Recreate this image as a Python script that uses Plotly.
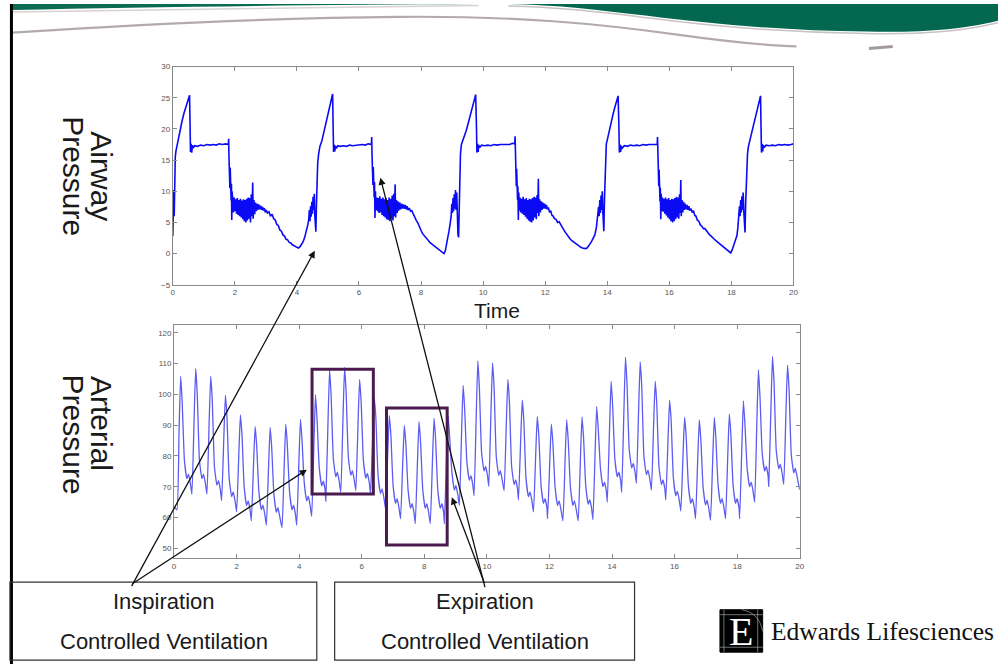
import plotly.graph_objects as go

W, H = 1003, 669

# ---------------- data ----------------
# Airway pressure (cmH2O) vs time (s)
airway_points = [
    (0.00, 2.8), (0.01, 8.5), (0.02, 3.5), (0.03, 10.2), (0.045, 6.0), (0.06, 12.5), (0.08, 15.5), (0.10, 16.4),
    (0.13, 17.2), (0.18, 18.4), (0.24, 19.9), (0.30, 21.3), (0.36, 22.5), (0.42, 23.6), (0.48, 24.6), (0.54, 25.4),
    (0.555, 21.0), (0.57, 16.3), (0.59, 17.6), (0.61, 16.2), (0.63, 17.4), (0.66, 16.9), (0.70, 17.3), (0.80, 17.2),
    (0.90, 17.4), (1.00, 17.3), (1.10, 17.5), (1.20, 17.4), (1.30, 17.5), (1.40, 17.4), (1.50, 17.6), (1.60, 17.5),
    (1.70, 17.6), (1.79, 17.5), (1.80, 18.4), (1.81, 15.5), (1.82, 13.2), (1.83, 14.6), (1.84, 10.5), (1.85, 13.8),
    (1.86, 9.8), (1.87, 12.5), (1.88, 8.5), (1.89, 11.2), (1.90, 5.4), (1.91, 10.0), (1.93, 8.8),
    (1.955, 6.6), (1.98, 9.0), (2.005, 6.8), (2.03, 8.7), (2.055, 6.4), (2.08, 8.9), (2.105, 6.2), (2.13, 8.6),
    (2.155, 6.0), (2.18, 8.8), (2.205, 5.8), (2.23, 8.5), (2.255, 5.5), (2.28, 8.7), (2.305, 5.2), (2.33, 8.6),
    (2.355, 5.0), (2.38, 8.8), (2.405, 5.3), (2.43, 9.0), (2.455, 5.6), (2.48, 8.9), (2.505, 5.0), (2.53, 9.5),
    (2.555, 6.0), (2.575, 11.4), (2.59, 5.6), (2.615, 8.6), (2.64, 6.3), (2.665, 8.2), (2.69, 6.8), (2.715, 8.0),
    (2.74, 7.0), (2.77, 7.9), (2.80, 7.1), (2.83, 7.7), (2.86, 7.0), (2.89, 7.5), (2.92, 6.9), (2.95, 7.3),
    (2.98, 6.6), (3.01, 7.0), (3.05, 6.5), (3.10, 6.7), (3.15, 6.0), (3.20, 6.3), (3.25, 5.6), (3.30, 5.4),
    (3.35, 4.7), (3.40, 4.5), (3.45, 3.8), (3.50, 3.6), (3.55, 3.0), (3.60, 2.8), (3.65, 2.3), (3.70, 2.2),
    (3.75, 1.8), (3.80, 1.7), (3.85, 1.4), (3.90, 1.3), (3.95, 1.1), (4.00, 1.0), (4.05, 0.9), (4.10, 1.1),
    (4.15, 1.5), (4.20, 1.9), (4.25, 2.6), (4.30, 3.4), (4.35, 4.6), (4.38, 5.4), (4.40, 7.0), (4.42, 5.2),
    (4.44, 7.6), (4.46, 5.9), (4.48, 8.3), (4.50, 6.4), (4.52, 9.1), (4.54, 7.0), (4.56, 9.6), (4.575, 6.2),
    (4.59, 4.2), (4.61, 3.5), (4.63, 8.0), (4.65, 12.5), (4.67, 14.6), (4.70, 16.0), (4.74, 17.2), (4.80, 18.0),
    (4.86, 19.3), (4.92, 20.6), (4.98, 21.9), (5.04, 23.2), (5.10, 24.4), (5.15, 25.6),
    (5.165, 21.0), (5.18, 16.3), (5.20, 17.5), (5.22, 16.4), (5.24, 17.3), (5.27, 16.9), (5.32, 17.3), (5.40, 17.2),
    (5.50, 17.3), (5.60, 17.2), (5.70, 17.4), (5.80, 17.3), (5.90, 17.4), (6.00, 17.4), (6.10, 17.5), (6.20, 17.4),
    (6.30, 17.6), (6.40, 17.5), (6.41, 18.7), (6.42, 15.8), (6.43, 13.5), (6.44, 14.8), (6.45, 11.0), (6.46, 13.9),
    (6.47, 10.5), (6.48, 12.8), (6.49, 9.0), (6.50, 11.5), (6.515, 5.7), (6.53, 10.0), (6.545, 7.0),
    (6.57, 9.0), (6.595, 6.8), (6.62, 8.9), (6.645, 6.5), (6.67, 9.2), (6.695, 6.6), (6.72, 8.8), (6.745, 6.2),
    (6.77, 9.0), (6.795, 6.0), (6.82, 8.7), (6.845, 5.8), (6.87, 8.9), (6.895, 5.5), (6.92, 8.6), (6.945, 5.4),
    (6.97, 9.0), (6.995, 5.2), (7.02, 8.8), (7.045, 5.6), (7.07, 9.3), (7.095, 5.3), (7.12, 9.6), (7.14, 6.0),
    (7.165, 11.1), (7.18, 5.8), (7.205, 8.6), (7.23, 6.5), (7.255, 8.4), (7.28, 6.9), (7.31, 8.2), (7.34, 7.1),
    (7.37, 8.0), (7.40, 7.2), (7.43, 7.9), (7.46, 7.2), (7.49, 7.8), (7.52, 7.1), (7.55, 7.6), (7.58, 7.0),
    (7.62, 7.3), (7.66, 6.8), (7.70, 6.9), (7.75, 6.3), (7.80, 6.0), (7.85, 5.3), (7.90, 4.9), (7.95, 4.2),
    (8.00, 3.7), (8.05, 3.2), (8.10, 2.9), (8.15, 2.5), (8.20, 2.2), (8.25, 2.0), (8.30, 1.7), (8.35, 1.5),
    (8.40, 1.3), (8.45, 1.1), (8.50, 0.9), (8.55, 0.8), (8.60, 0.6), (8.65, 0.4), (8.70, 0.2), (8.74, 0.0),
    (8.78, 0.4), (8.82, 1.3), (8.86, 2.4), (8.90, 3.6), (8.94, 4.9), (8.97, 6.0), (8.99, 8.0), (9.01, 6.5),
    (9.03, 8.9), (9.05, 6.8), (9.07, 9.5), (9.09, 7.2), (9.11, 10.2), (9.13, 7.0), (9.15, 9.8), (9.17, 5.0),
    (9.19, 3.0), (9.21, 2.6), (9.23, 8.0), (9.25, 13.0), (9.27, 16.0), (9.30, 17.5), (9.33, 17.9), (9.40, 18.9),
    (9.46, 19.8), (9.52, 20.9), (9.58, 22.1), (9.64, 23.3), (9.70, 24.5), (9.76, 25.5),
    (9.785, 20.5), (9.80, 16.2), (9.82, 17.6), (9.84, 16.3), (9.86, 17.4), (9.89, 17.0), (9.95, 17.4), (10.05, 17.3),
    (10.15, 17.4), (10.25, 17.3), (10.35, 17.5), (10.45, 17.4), (10.55, 17.5), (10.65, 17.5), (10.75, 17.6), (10.85, 17.5),
    (10.95, 17.7), (11.02, 17.6), (11.03, 18.8), (11.04, 15.5), (11.05, 13.4), (11.06, 14.7), (11.07, 10.8), (11.08, 13.6),
    (11.09, 9.8), (11.10, 12.4), (11.11, 8.6), (11.12, 10.8), (11.135, 5.4), (11.15, 9.8), (11.165, 6.9),
    (11.19, 9.0), (11.215, 6.6), (11.24, 8.8), (11.265, 6.4), (11.29, 9.1), (11.315, 6.2), (11.34, 8.7), (11.365, 5.9),
    (11.39, 8.9), (11.415, 5.6), (11.44, 8.6), (11.465, 5.3), (11.49, 8.8), (11.515, 5.1), (11.54, 8.7), (11.565, 5.0),
    (11.59, 8.9), (11.615, 5.3), (11.64, 9.1), (11.665, 5.8), (11.69, 9.0), (11.715, 5.5), (11.74, 9.4), (11.76, 6.5),
    (11.78, 12.0), (11.795, 6.0), (11.82, 8.7), (11.845, 6.6), (11.87, 8.4), (11.895, 7.0), (11.92, 8.2), (11.95, 7.2),
    (11.98, 8.0), (12.01, 7.2), (12.04, 7.8), (12.07, 7.1), (12.10, 7.4), (12.14, 6.7), (12.18, 6.8), (12.22, 6.1),
    (12.26, 6.0), (12.30, 5.6), (12.35, 5.5), (12.40, 5.0), (12.45, 5.1), (12.50, 4.6), (12.55, 4.3), (12.60, 3.8),
    (12.65, 3.4), (12.70, 3.0), (12.75, 2.7), (12.80, 2.4), (12.85, 2.1), (12.90, 1.9), (12.95, 1.7), (13.00, 1.5),
    (13.05, 1.3), (13.10, 1.1), (13.15, 1.0), (13.20, 0.9), (13.25, 0.8), (13.30, 0.8), (13.35, 0.9), (13.40, 1.2),
    (13.45, 1.6), (13.50, 2.0), (13.55, 2.4), (13.60, 3.0), (13.65, 4.2), (13.69, 5.6), (13.72, 7.5), (13.74, 6.0),
    (13.76, 8.6), (13.78, 6.5), (13.80, 9.3), (13.82, 7.0), (13.84, 10.0), (13.86, 6.5), (13.875, 4.5), (13.89, 3.6),
    (13.91, 8.5), (13.93, 13.0), (13.95, 16.5), (13.97, 17.6), (14.00, 18.2), (14.06, 19.7), (14.12, 20.9), (14.18, 22.2),
    (14.24, 23.4), (14.30, 24.5), (14.35, 25.3),
    (14.375, 20.5), (14.39, 16.2), (14.41, 17.5), (14.43, 16.3), (14.45, 17.3), (14.48, 16.9), (14.55, 17.3), (14.65, 17.2),
    (14.75, 17.4), (14.85, 17.3), (14.95, 17.4), (15.05, 17.3), (15.15, 17.5), (15.25, 17.4), (15.35, 17.5), (15.45, 17.5),
    (15.55, 17.6), (15.61, 17.5), (15.62, 18.7), (15.63, 15.6), (15.64, 13.3), (15.65, 14.6), (15.66, 10.8), (15.67, 13.5),
    (15.68, 9.6), (15.69, 12.2), (15.70, 8.4), (15.71, 10.6), (15.725, 5.5), (15.74, 9.6), (15.755, 6.8),
    (15.78, 9.0), (15.805, 6.7), (15.83, 8.8), (15.855, 6.4), (15.88, 9.0), (15.905, 6.1), (15.93, 8.7), (15.955, 5.8),
    (15.98, 8.9), (16.005, 5.5), (16.03, 8.6), (16.055, 5.2), (16.08, 8.8), (16.105, 5.0), (16.13, 8.7), (16.155, 5.2),
    (16.18, 8.9), (16.205, 5.5), (16.23, 9.1), (16.255, 5.8), (16.28, 9.0), (16.305, 5.6), (16.33, 9.5), (16.35, 6.5),
    (16.37, 11.8), (16.385, 6.0), (16.41, 8.6), (16.435, 6.6), (16.46, 8.3), (16.485, 7.0), (16.51, 8.0), (16.54, 7.1),
    (16.57, 7.8), (16.60, 7.0), (16.63, 7.6), (16.66, 6.9), (16.70, 7.2), (16.74, 6.6), (16.78, 6.9), (16.82, 6.1),
    (16.86, 6.0), (16.90, 5.4), (16.95, 5.2), (17.00, 4.6), (17.05, 4.4), (17.10, 4.0), (17.15, 4.0), (17.20, 3.6),
    (17.25, 3.4), (17.30, 3.0), (17.35, 2.8), (17.40, 2.5), (17.45, 2.3), (17.50, 2.1), (17.55, 1.9), (17.60, 1.7),
    (17.65, 1.5), (17.70, 1.3), (17.75, 1.1), (17.80, 0.9), (17.85, 0.6), (17.90, 0.4), (17.95, 0.2), (17.98, 0.1),
    (18.02, 0.5), (18.06, 1.2), (18.10, 1.8), (18.14, 2.3), (18.18, 2.9), (18.21, 4.2), (18.24, 5.8), (18.26, 7.6),
    (18.28, 6.0), (18.30, 8.6), (18.32, 6.6), (18.34, 9.2), (18.36, 7.0), (18.38, 9.8), (18.40, 6.8), (18.42, 5.0),
    (18.44, 3.4), (18.46, 8.0), (18.49, 13.0), (18.52, 16.0), (18.55, 17.2), (18.60, 18.2), (18.66, 19.5), (18.72, 20.8),
    (18.78, 22.1), (18.84, 23.4), (18.90, 24.6), (18.94, 25.3),
    (18.955, 20.5), (18.97, 16.2), (18.99, 17.6), (19.01, 16.4), (19.03, 17.4), (19.06, 17.0), (19.12, 17.4), (19.22, 17.3),
    (19.32, 17.4), (19.42, 17.3), (19.52, 17.5), (19.62, 17.4), (19.72, 17.5), (19.82, 17.4), (19.92, 17.5), (20.00, 17.6),
]

# Arterial pressure (mmHg) vs time (s), one row per heart beat
art_t_beats = [
    [0.00],
    [0.09, 0.16, 0.21, 0.26, 0.33, 0.41, 0.46, 0.52],
    [0.57, 0.64, 0.69, 0.74, 0.81, 0.89, 0.94, 1.00],
    [1.05, 1.12, 1.17, 1.22, 1.29, 1.37, 1.42, 1.48],
    [1.52, 1.59, 1.64, 1.69, 1.76, 1.84, 1.89, 1.95],
    [2.00, 2.07, 2.12, 2.17, 2.24, 2.32, 2.37, 2.43],
    [2.47, 2.54, 2.59, 2.64, 2.71, 2.79, 2.84, 2.90],
    [2.95, 3.02, 3.07, 3.12, 3.19, 3.27, 3.32, 3.38],
    [3.45, 3.52, 3.57, 3.62, 3.69, 3.77, 3.82, 3.88],
    [3.92, 3.99, 4.04, 4.09, 4.16, 4.24, 4.29, 4.35],
    [4.40, 4.47, 4.52, 4.57, 4.64, 4.72, 4.77, 4.83],
    [4.85, 4.92, 4.97, 5.02, 5.09, 5.17, 5.22, 5.28],
    [5.33, 5.40, 5.45, 5.50, 5.57, 5.65, 5.70, 5.76],
    [5.81, 5.88, 5.93, 5.98, 6.05, 6.13, 6.18, 6.24],
    [6.28, 6.35, 6.40, 6.45, 6.52, 6.60, 6.65, 6.71],
    [6.76, 6.83, 6.88, 6.93, 7.00, 7.08, 7.13, 7.19],
    [7.24, 7.31, 7.36, 7.41, 7.48, 7.56, 7.61, 7.67],
    [7.71, 7.78, 7.83, 7.88, 7.95, 8.03, 8.08, 8.14],
    [8.19, 8.26, 8.31, 8.36, 8.43, 8.51, 8.56, 8.62],
    [8.64, 8.71, 8.76, 8.81, 8.88, 8.96, 9.01, 9.07],
    [9.12, 9.19, 9.24, 9.29, 9.36, 9.44, 9.49, 9.55],
    [9.59, 9.66, 9.71, 9.76, 9.83, 9.91, 9.96, 10.02],
    [10.06, 10.13, 10.18, 10.23, 10.30, 10.38, 10.43, 10.49],
    [10.55, 10.62, 10.67, 10.72, 10.79, 10.87, 10.92, 10.98],
    [11.01, 11.08, 11.13, 11.18, 11.25, 11.33, 11.38, 11.44],
    [11.49, 11.56, 11.61, 11.66, 11.73, 11.81, 11.86, 11.92],
    [11.94, 12.01, 12.06, 12.11, 12.18, 12.26, 12.31, 12.37],
    [12.43, 12.50, 12.55, 12.60, 12.67, 12.75, 12.80, 12.86],
    [12.92, 12.99, 13.04, 13.09, 13.16, 13.24, 13.29, 13.35],
    [13.39, 13.46, 13.51, 13.56, 13.63, 13.71, 13.76, 13.82],
    [13.85, 13.92, 13.97, 14.02, 14.09, 14.17, 14.22, 14.28],
    [14.31, 14.38, 14.43, 14.48, 14.55, 14.63, 14.68, 14.74],
    [14.78, 14.85, 14.90, 14.95, 15.02, 15.10, 15.15, 15.21],
    [15.26, 15.33, 15.38, 15.43, 15.50, 15.58, 15.63, 15.69],
    [15.72, 15.79, 15.84, 15.89, 15.96, 16.04, 16.09, 16.15],
    [16.20, 16.27, 16.32, 16.37, 16.44, 16.52, 16.57, 16.63],
    [16.67, 16.74, 16.79, 16.84, 16.91, 16.99, 17.04, 17.10],
    [17.15, 17.22, 17.27, 17.32, 17.39, 17.47, 17.52, 17.58],
    [17.63, 17.70, 17.75, 17.80, 17.87, 17.95, 18.00, 18.06],
    [18.08, 18.15, 18.20, 18.25, 18.32, 18.40, 18.45, 18.51],
    [18.56, 18.63, 18.68, 18.73, 18.80, 18.88, 18.93, 18.99],
    [19.01, 19.08, 19.13, 19.18, 19.25, 19.33, 19.38, 19.44],
    [19.49, 19.56, 19.61, 19.66, 19.73, 19.81, 19.86, 19.92],
    [20.00],
]
art_p_beats = [
    [63.5],
    [62.5, 88.5, 105.9, 97.2, 78.6, 72.6, 74.1, 71.1],
    [67.6, 92.1, 108.4, 100.2, 78.6, 72.6, 74.1, 71.1],
    [67.6, 90.6, 105.9, 98.2, 76.5, 70.5, 72.0, 69.0],
    [65.5, 86.0, 99.7, 92.9, 72.8, 66.8, 68.3, 65.3],
    [61.8, 80.7, 93.3, 87.0, 69.9, 63.9, 65.4, 62.4],
    [58.9, 77.3, 89.5, 83.4, 68.5, 62.5, 64.0, 61.0],
    [57.5, 76.5, 89.2, 82.9, 67.7, 61.7, 63.2, 60.2],
    [56.7, 76.9, 90.3, 83.6, 68.5, 62.5, 64.0, 61.0],
    [57.5, 78.1, 91.9, 85.0, 71.4, 65.4, 66.9, 63.9],
    [60.4, 84.1, 99.9, 92.0, 76.3, 70.3, 71.8, 68.8],
    [65.3, 90.9, 108.0, 99.5, 79.2, 73.2, 74.7, 71.7],
    [68.2, 92.6, 108.8, 100.7, 79.7, 73.7, 75.2, 72.2],
    [68.7, 90.4, 104.8, 97.6, 78.8, 72.8, 74.3, 71.3],
    [67.8, 86.3, 98.6, 92.4, 73.8, 67.8, 69.3, 66.3],
    [62.8, 81.0, 93.1, 87.0, 70.6, 64.6, 66.1, 63.1],
    [59.6, 77.8, 89.9, 83.8, 69.0, 63.0, 64.5, 61.5],
    [58.0, 77.9, 91.1, 84.5, 69.0, 63.0, 64.5, 61.5],
    [58.0, 78.5, 92.2, 85.4, 69.0, 63.0, 64.5, 61.5],
    [58.0, 79.1, 93.1, 86.1, 74.9, 68.9, 70.4, 67.4],
    [63.9, 87.3, 102.9, 95.1, 78.1, 72.1, 73.6, 70.6],
    [67.1, 93.4, 110.9, 102.1, 81.1, 75.1, 76.6, 73.6],
    [70.1, 94.2, 110.2, 102.2, 79.7, 73.7, 75.2, 72.2],
    [68.7, 90.4, 104.8, 97.6, 76.7, 70.7, 72.2, 69.2],
    [65.7, 85.1, 98.1, 91.6, 72.8, 66.8, 68.3, 65.3],
    [61.8, 80.4, 92.8, 86.6, 70.6, 64.6, 66.1, 63.1],
    [59.6, 78.0, 90.3, 84.2, 69.9, 63.9, 65.4, 62.4],
    [58.9, 78.6, 91.7, 85.1, 69.9, 63.9, 65.4, 62.4],
    [58.9, 79.1, 92.6, 85.9, 70.3, 64.3, 65.8, 62.8],
    [59.3, 81.3, 96.0, 88.7, 76.0, 70.0, 71.5, 68.5],
    [65.0, 88.5, 104.2, 96.4, 79.2, 73.2, 74.7, 71.7],
    [68.2, 94.5, 112.0, 103.2, 82.1, 76.1, 77.6, 74.6],
    [71.1, 94.8, 110.6, 102.7, 79.9, 73.9, 75.4, 72.4],
    [68.9, 90.1, 104.2, 97.1, 76.7, 70.7, 72.2, 69.2],
    [65.7, 85.1, 98.1, 91.6, 73.1, 67.1, 68.6, 65.6],
    [62.1, 80.3, 92.5, 86.4, 70.6, 64.6, 66.1, 63.1],
    [59.6, 78.9, 91.7, 85.3, 70.1, 64.1, 65.6, 62.6],
    [59.1, 79.1, 92.5, 85.8, 70.6, 64.6, 66.1, 63.1],
    [59.6, 80.0, 93.6, 86.8, 70.6, 64.6, 66.1, 63.1],
    [59.6, 82.6, 97.9, 90.2, 76.0, 70.0, 71.5, 68.5],
    [65.0, 90.8, 108.0, 99.4, 81.1, 75.1, 76.6, 73.6],
    [70.1, 95.4, 112.3, 103.9, 81.8, 75.8, 77.3, 74.3],
    [70.8, 94.0, 109.5, 101.8, 80.5, 74.5, 76.0, 73.0],
    [69.0],
]

time_ticks = [0, 2, 4, 6, 8, 10, 12, 14, 16, 18, 20]
airway_ticks = [-5, 0, 5, 10, 15, 20, 25, 30]
arterial_ticks = [50, 60, 70, 80, 90, 100, 110, 120]

# highlighted regions on the arterial trace (time range, pressure range)
insp_box = {"t": (4.41, 6.37), "p": (67.6, 108.2)}
exp_box = {"t": (6.79, 8.73), "p": (51.1, 95.6)}

art_t = [v for row in art_t_beats for v in row]
art_p = [v for row in art_p_beats for v in row]


# ---------------- helpers (pixel -> paper) ----------------
def X(v):
    return v / W


def Y(v):
    return 1 - v / H


def path_px(cmds):
    out = []
    for c in cmds:
        if isinstance(c, str):
            out.append(c)
        else:
            out.append(f"{X(c[0]):.5f},{Y(c[1]):.5f}")
    return " ".join(out)


FONT = "Arial, Liberation Sans, sans-serif"
SERIF = "Liberation Serif, Times New Roman, serif"

fig = go.Figure()
fig.add_trace(go.Scatter(
    x=[p[0] for p in airway_points], y=[p[1] for p in airway_points],
    mode="lines", line=dict(color="#0a0af5", width=1.6), xaxis="x", yaxis="y",
    showlegend=False, hoverinfo="skip"))
fig.add_trace(go.Scatter(
    x=art_t, y=art_p, mode="lines", line=dict(color="#5c5cf2", width=1.3, shape="spline", smoothing=0.4),
    xaxis="x2", yaxis="y2", showlegend=False, hoverinfo="skip"))

axis_common = dict(showgrid=False, zeroline=False, showline=True, linecolor="#8a8a8a", linewidth=1,
                   mirror="ticks", ticks="inside", ticklen=4, tickcolor="#8a8a8a",
                   tickfont=dict(family=FONT, size=8, color="#555555"))

fig.update_layout(
    width=W, height=H, autosize=False,
    margin=dict(l=0, r=0, t=0, b=0),
    paper_bgcolor="white", plot_bgcolor="white",
    xaxis=dict(domain=[X(172), X(797)], range=[0, 20], tickvals=time_ticks, anchor="y", **axis_common),
    yaxis=dict(domain=[Y(284.6), Y(63.4)], range=[-5, 30], tickvals=airway_ticks, anchor="x", **axis_common),
    xaxis2=dict(domain=[X(173.3), X(803.3)], range=[0, 20], tickvals=time_ticks, anchor="y2", **axis_common),
    yaxis2=dict(domain=[Y(562), Y(325)], range=[46.7, 122.66], tickvals=arterial_ticks, anchor="x2", **axis_common),
)

shapes = []
# green banner (right wave)
shapes.append(dict(type="path", xref="paper", yref="paper", layer="above",
                   path=path_px(["M", (510, 0), "L", (1003, 0), "L", (1003, 17),
                                 "C", (965, 26), (930, 29), (870, 28),
                                 "C", (790, 27), (710, 20), (650, 12),
                                 "C", (600, 6), (560, 1), (510, 0), "Z"]),
                   fillcolor="#04674f", line=dict(width=0)))
# shadow under the wave
shapes.append(dict(type="path", xref="paper", yref="paper",
                   path=path_px(["M", (1003, 19), "C", (965, 28), (930, 31), (870, 30),
                                 "C", (790, 29), (710, 22), (650, 14),
                                 "C", (600, 8), (560, 3), (510, 2)]),
                   line=dict(color="#c9c2c2", width=1.5)))
# thin green strip top-left
shapes.append(dict(type="path", xref="paper", yref="paper",
                   path=path_px(["M", (10, 0), "L", (480, 0), "C", (300, 1), (150, 3), (10, 6), "Z"]),
                   fillcolor="#0a6a52", line=dict(width=0)))
shapes.append(dict(type="path", xref="paper", yref="paper",
                   path=path_px(["M", (10, 8), "C", (150, 5), (300, 3), (480, 1.5)]),
                   line=dict(color="#d8d2d2", width=1.5)))
# gray swoosh line
shapes.append(dict(type="path", xref="paper", yref="paper",
                   path=path_px(["M", (10, 29), "C", (120, 22), (260, 14), (400, 13),
                                 "C", (520, 12), (600, 20), (680, 31),
                                 "C", (730, 38), (770, 42), (800, 43)]),
                   line=dict(color="#b3abab", width=2.2)))
# small gray dash
shapes.append(dict(type="line", xref="paper", yref="paper", x0=X(873), y0=Y(45), x1=X(897), y1=Y(43),
                   line=dict(color="#a39b9b", width=3)))
# left black border
shapes.append(dict(type="line", xref="paper", yref="paper", x0=X(9.5), y0=0, x1=X(9.5), y1=1,
                   line=dict(color="black", width=3)))
# purple highlight boxes on arterial plot (data coords)
for b in (insp_box, exp_box):
    shapes.append(dict(type="rect", xref="x2", yref="y2", x0=b["t"][0], x1=b["t"][1],
                       y0=b["p"][0], y1=b["p"][1], line=dict(color="#4b1b50", width=3)))
# caption boxes
shapes.append(dict(type="rect", xref="paper", yref="paper", x0=X(8), x1=X(317), y0=Y(665), y1=Y(586),
                   line=dict(color="#333333", width=1.2)))
shapes.append(dict(type="rect", xref="paper", yref="paper", x0=X(335), x1=X(637), y0=Y(665), y1=Y(586),
                   line=dict(color="#333333", width=1.2)))
# logo square
shapes.append(dict(type="rect", xref="paper", yref="paper", x0=X(723), x1=X(766), y0=Y(657), y1=Y(614),
                   fillcolor="black", line=dict(color="black", width=1)))
for (x0, y0, x1, y1) in [(727, 614, 727, 657), (761, 614, 761, 657), (723, 619, 766, 619), (723, 652, 766, 652)]:
    shapes.append(dict(type="line", xref="paper", yref="paper", x0=X(x0), y0=Y(y0), x1=X(x1), y1=Y(y1),
                       line=dict(color="#bbbbbb", width=0.6)))
shapes.append(dict(type="path", xref="paper", yref="paper",
                   path=path_px(["M", (745, 614), "C", (757, 616), (764, 624), (766, 636)]),
                   line=dict(color="#bbbbbb", width=0.6)))
fig.update_layout(shapes=shapes)

ann = []


def text(x, y, s, size, angle=0, family=FONT, color="#1a1a1a", xanchor="center"):
    ann.append(dict(x=X(x), y=Y(y), xref="paper", yref="paper", text=s, showarrow=False,
                    textangle=angle, xanchor=xanchor, yanchor="middle",
                    font=dict(family=family, size=size, color=color)))


text(498, 311, "Time", 21)
text(100, 175, "Airway", 30, angle=90)
text(72, 175, "Pressure", 30, angle=90)
text(100, 425, "Arterial", 30, angle=90)
text(72, 437, "Pressure", 30, angle=90)
text(163, 606, "Inspiration", 22)
text(163, 646, "Controlled Ventilation", 22)
text(486, 606, "Expiration", 22)
text(486, 646, "Controlled Ventilation", 22)
text(772, 636, "Edwards Lifesciences", 25.5, family=SERIF, color="#111111", xanchor="left")
text(744.5, 636, "E", 40, family=SERIF, color="white")

# arrows: (tail px, head px)
arrows = [((131, 587), (315, 250)), ((131, 587), (307, 472)),
          ((486, 587), (381, 176)), ((486, 587), (453, 500))]
for (tx, ty), (hx, hy) in arrows:
    ann.append(dict(x=X(hx), y=Y(hy), xref="paper", yref="paper", ax=tx - hx, ay=ty - hy,
                    axref="pixel", ayref="pixel", text="", showarrow=True, arrowhead=2, arrowsize=1.1,
                    arrowwidth=1.3, arrowcolor="#111111", standoff=0, startstandoff=0))
fig.update_layout(annotations=ann)

fig.write_html("out.html", config={"displayModeBar": False},
               post_script="document.body.style.margin='0';")
